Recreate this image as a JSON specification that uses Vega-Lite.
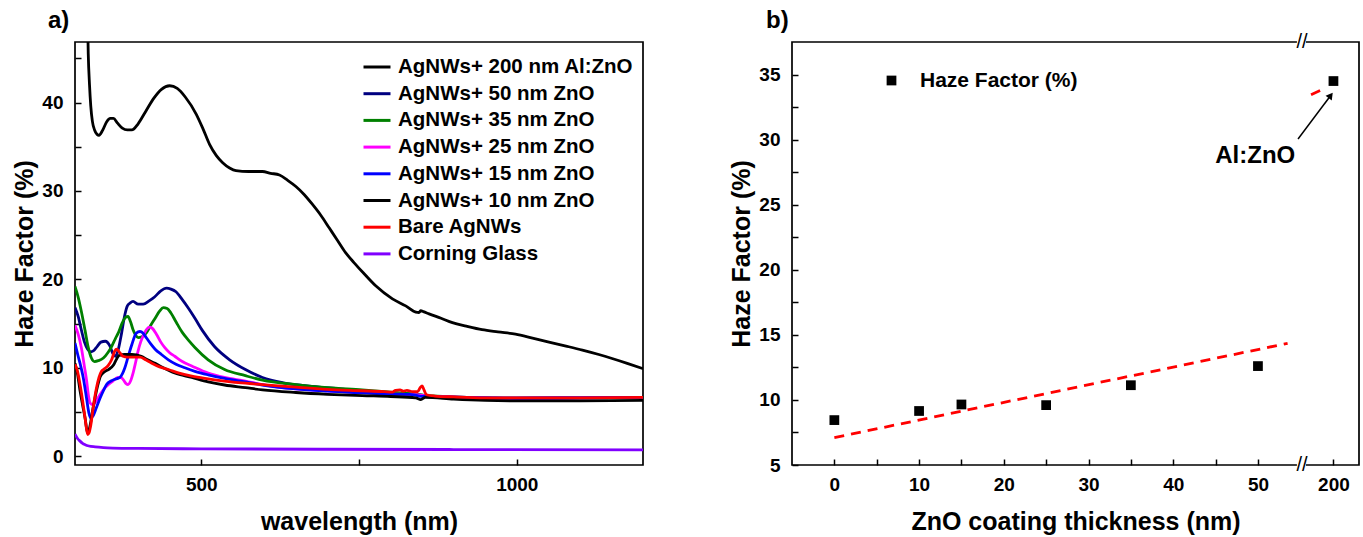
{
  "$schema": "https://vega.github.io/schema/vega-lite/v6.json",
  "background": "white",
  "padding": {"left": 12, "top": 8, "right": 5, "bottom": 5},
  "spacing": 85,
  "config": {
    "font": "Liberation Sans",
    "view": {"stroke": "black", "strokeWidth": 1.7},
    "axis": {
      "domain": false, "grid": false, "ticks": true, "tickSize": -6, "tickColor": "black", "tickWidth": 1.5,
      "labelFont": "Liberation Sans", "labelFontWeight": "bold", "labelFontSize": 19, "labelColor": "black",
      "titleFont": "Liberation Sans", "titleFontWeight": "bold", "titleFontSize": 25, "titleColor": "black"
    },
    "axisX": {"labelPadding": 16, "titlePadding": 15},
    "axisY": {"labelPadding": 18, "titlePadding": 4},
    "title": {"font": "Liberation Sans", "fontWeight": "bold", "fontSize": 24, "color": "black"}
  },
  "resolve": {"scale": {"color": "independent", "shape": "independent"}, "legend": {"color": "independent", "shape": "independent"}},
  "hconcat": [
    {
      "width": 568,
      "height": 423,
      "title": {"text": "a)", "anchor": "start", "frame": "group", "dx": -27, "offset": 9},
      "data": {"values": [
        {"s":"Corning Glass","w":300,"h":2.5},{"s":"Corning Glass","w":304,"h":2.0},{"s":"Corning Glass","w":308,"h":1.7},{"s":"Corning Glass","w":312,"h":1.45},{"s":"Corning Glass","w":316,"h":1.3},{"s":"Corning Glass","w":322,"h":1.15},{"s":"Corning Glass","w":332,"h":1.05},{"s":"Corning Glass","w":345,"h":0.97},{"s":"Corning Glass","w":360,"h":0.92},{"s":"Corning Glass","w":400,"h":0.87},{"s":"Corning Glass","w":500,"h":0.83},{"s":"Corning Glass","w":700,"h":0.78},{"s":"Corning Glass","w":900,"h":0.75},{"s":"Corning Glass","w":1200,"h":0.72},

        {"s":"AgNWs+ 200 nm Al:ZnO","w":317,"h":62},{"s":"AgNWs+ 200 nm Al:ZnO","w":319,"h":53},{"s":"AgNWs+ 200 nm Al:ZnO","w":321,"h":45.5},{"s":"AgNWs+ 200 nm Al:ZnO","w":323,"h":42},{"s":"AgNWs+ 200 nm Al:ZnO","w":325,"h":39.6},{"s":"AgNWs+ 200 nm Al:ZnO","w":327.5,"h":37.9},{"s":"AgNWs+ 200 nm Al:ZnO","w":331,"h":36.9},{"s":"AgNWs+ 200 nm Al:ZnO","w":335,"h":36.4},{"s":"AgNWs+ 200 nm Al:ZnO","w":338,"h":36.3},{"s":"AgNWs+ 200 nm Al:ZnO","w":344,"h":36.9},{"s":"AgNWs+ 200 nm Al:ZnO","w":350,"h":37.8},{"s":"AgNWs+ 200 nm Al:ZnO","w":356,"h":38.2},{"s":"AgNWs+ 200 nm Al:ZnO","w":361,"h":38.2},{"s":"AgNWs+ 200 nm Al:ZnO","w":367,"h":37.7},{"s":"AgNWs+ 200 nm Al:ZnO","w":375,"h":37.1},{"s":"AgNWs+ 200 nm Al:ZnO","w":383,"h":36.9},{"s":"AgNWs+ 200 nm Al:ZnO","w":390,"h":36.9},{"s":"AgNWs+ 200 nm Al:ZnO","w":400,"h":37.6},{"s":"AgNWs+ 200 nm Al:ZnO","w":412,"h":39.0},{"s":"AgNWs+ 200 nm Al:ZnO","w":425,"h":40.5},{"s":"AgNWs+ 200 nm Al:ZnO","w":437,"h":41.5},{"s":"AgNWs+ 200 nm Al:ZnO","w":450,"h":41.9},{"s":"AgNWs+ 200 nm Al:ZnO","w":462,"h":41.6},{"s":"AgNWs+ 200 nm Al:ZnO","w":475,"h":40.6},{"s":"AgNWs+ 200 nm Al:ZnO","w":492,"h":38.7},{"s":"AgNWs+ 200 nm Al:ZnO","w":503,"h":37.0},{"s":"AgNWs+ 200 nm Al:ZnO","w":513,"h":35.3},{"s":"AgNWs+ 200 nm Al:ZnO","w":524,"h":34.0},{"s":"AgNWs+ 200 nm Al:ZnO","w":534,"h":33.2},{"s":"AgNWs+ 200 nm Al:ZnO","w":545,"h":32.6},{"s":"AgNWs+ 200 nm Al:ZnO","w":555,"h":32.3},{"s":"AgNWs+ 200 nm Al:ZnO","w":575,"h":32.2},{"s":"AgNWs+ 200 nm Al:ZnO","w":597,"h":32.2},{"s":"AgNWs+ 200 nm Al:ZnO","w":610,"h":32.0},{"s":"AgNWs+ 200 nm Al:ZnO","w":624,"h":31.8},{"s":"AgNWs+ 200 nm Al:ZnO","w":637,"h":31.2},{"s":"AgNWs+ 200 nm Al:ZnO","w":650,"h":30.5},{"s":"AgNWs+ 200 nm Al:ZnO","w":663,"h":29.6},{"s":"AgNWs+ 200 nm Al:ZnO","w":676,"h":28.5},{"s":"AgNWs+ 200 nm Al:ZnO","w":690,"h":27.2},{"s":"AgNWs+ 200 nm Al:ZnO","w":703,"h":25.8},{"s":"AgNWs+ 200 nm Al:ZnO","w":716,"h":24.4},{"s":"AgNWs+ 200 nm Al:ZnO","w":729,"h":23.0},{"s":"AgNWs+ 200 nm Al:ZnO","w":742,"h":21.9},{"s":"AgNWs+ 200 nm Al:ZnO","w":756,"h":20.8},{"s":"AgNWs+ 200 nm Al:ZnO","w":776,"h":19.3},{"s":"AgNWs+ 200 nm Al:ZnO","w":803,"h":17.8},{"s":"AgNWs+ 200 nm Al:ZnO","w":824,"h":17.0},{"s":"AgNWs+ 200 nm Al:ZnO","w":840,"h":16.3},{"s":"AgNWs+ 200 nm Al:ZnO","w":845,"h":16.25},{"s":"AgNWs+ 200 nm Al:ZnO","w":848,"h":16.45},{"s":"AgNWs+ 200 nm Al:ZnO","w":852,"h":16.35},{"s":"AgNWs+ 200 nm Al:ZnO","w":861,"h":16.1},{"s":"AgNWs+ 200 nm Al:ZnO","w":880,"h":15.6},{"s":"AgNWs+ 200 nm Al:ZnO","w":898,"h":15.1},{"s":"AgNWs+ 200 nm Al:ZnO","w":920,"h":14.7},{"s":"AgNWs+ 200 nm Al:ZnO","w":945,"h":14.3},{"s":"AgNWs+ 200 nm Al:ZnO","w":970,"h":14.05},{"s":"AgNWs+ 200 nm Al:ZnO","w":998,"h":13.8},{"s":"AgNWs+ 200 nm Al:ZnO","w":1025,"h":13.35},{"s":"AgNWs+ 200 nm Al:ZnO","w":1051,"h":12.9},{"s":"AgNWs+ 200 nm Al:ZnO","w":1078,"h":12.45},{"s":"AgNWs+ 200 nm Al:ZnO","w":1104,"h":12.0},{"s":"AgNWs+ 200 nm Al:ZnO","w":1130,"h":11.5},{"s":"AgNWs+ 200 nm Al:ZnO","w":1151,"h":11.05},{"s":"AgNWs+ 200 nm Al:ZnO","w":1175,"h":10.5},{"s":"AgNWs+ 200 nm Al:ZnO","w":1200,"h":9.9},

        {"s":"AgNWs+ 50 nm ZnO","w":300,"h":16.8},{"s":"AgNWs+ 50 nm ZnO","w":305,"h":15.8},{"s":"AgNWs+ 50 nm ZnO","w":310,"h":14.3},{"s":"AgNWs+ 50 nm ZnO","w":315,"h":12.9},{"s":"AgNWs+ 50 nm ZnO","w":320,"h":12.1},{"s":"AgNWs+ 50 nm ZnO","w":325,"h":11.8},{"s":"AgNWs+ 50 nm ZnO","w":329,"h":11.9},{"s":"AgNWs+ 50 nm ZnO","w":335,"h":12.4},{"s":"AgNWs+ 50 nm ZnO","w":341,"h":12.9},{"s":"AgNWs+ 50 nm ZnO","w":348,"h":13.0},{"s":"AgNWs+ 50 nm ZnO","w":355,"h":12.5},{"s":"AgNWs+ 50 nm ZnO","w":360,"h":11.6},{"s":"AgNWs+ 50 nm ZnO","w":364,"h":11.3},{"s":"AgNWs+ 50 nm ZnO","w":368,"h":11.9},{"s":"AgNWs+ 50 nm ZnO","w":373,"h":13.6},{"s":"AgNWs+ 50 nm ZnO","w":379,"h":16.0},{"s":"AgNWs+ 50 nm ZnO","w":383,"h":17.0},{"s":"AgNWs+ 50 nm ZnO","w":387,"h":17.3},{"s":"AgNWs+ 50 nm ZnO","w":392,"h":17.5},{"s":"AgNWs+ 50 nm ZnO","w":400,"h":17.2},{"s":"AgNWs+ 50 nm ZnO","w":408,"h":17.2},{"s":"AgNWs+ 50 nm ZnO","w":418,"h":17.6},{"s":"AgNWs+ 50 nm ZnO","w":426,"h":18.0},{"s":"AgNWs+ 50 nm ZnO","w":436,"h":18.7},{"s":"AgNWs+ 50 nm ZnO","w":445,"h":19.0},{"s":"AgNWs+ 50 nm ZnO","w":452,"h":18.9},{"s":"AgNWs+ 50 nm ZnO","w":460,"h":18.6},{"s":"AgNWs+ 50 nm ZnO","w":470,"h":17.7},{"s":"AgNWs+ 50 nm ZnO","w":480,"h":16.7},{"s":"AgNWs+ 50 nm ZnO","w":490,"h":15.6},{"s":"AgNWs+ 50 nm ZnO","w":502,"h":14.2},{"s":"AgNWs+ 50 nm ZnO","w":521,"h":12.4},{"s":"AgNWs+ 50 nm ZnO","w":545,"h":10.9},{"s":"AgNWs+ 50 nm ZnO","w":570,"h":9.8},{"s":"AgNWs+ 50 nm ZnO","w":597,"h":8.9},{"s":"AgNWs+ 50 nm ZnO","w":630,"h":8.3},{"s":"AgNWs+ 50 nm ZnO","w":676,"h":7.9},{"s":"AgNWs+ 50 nm ZnO","w":720,"h":7.6},{"s":"AgNWs+ 50 nm ZnO","w":755,"h":7.35},{"s":"AgNWs+ 50 nm ZnO","w":800,"h":7.15},{"s":"AgNWs+ 50 nm ZnO","w":840,"h":7.0},{"s":"AgNWs+ 50 nm ZnO","w":860,"h":6.8},{"s":"AgNWs+ 50 nm ZnO","w":900,"h":6.7},{"s":"AgNWs+ 50 nm ZnO","w":950,"h":6.6},{"s":"AgNWs+ 50 nm ZnO","w":1000,"h":6.55},{"s":"AgNWs+ 50 nm ZnO","w":1100,"h":6.6},{"s":"AgNWs+ 50 nm ZnO","w":1200,"h":6.65},

        {"s":"AgNWs+ 35 nm ZnO","w":300,"h":19.2},{"s":"AgNWs+ 35 nm ZnO","w":305,"h":18.0},{"s":"AgNWs+ 35 nm ZnO","w":310,"h":16.4},{"s":"AgNWs+ 35 nm ZnO","w":316,"h":14.2},{"s":"AgNWs+ 35 nm ZnO","w":321,"h":12.3},{"s":"AgNWs+ 35 nm ZnO","w":326,"h":11.1},{"s":"AgNWs+ 35 nm ZnO","w":331,"h":10.7},{"s":"AgNWs+ 35 nm ZnO","w":337,"h":10.8},{"s":"AgNWs+ 35 nm ZnO","w":345,"h":11.1},{"s":"AgNWs+ 35 nm ZnO","w":352,"h":11.7},{"s":"AgNWs+ 35 nm ZnO","w":358,"h":12.4},{"s":"AgNWs+ 35 nm ZnO","w":364,"h":13.3},{"s":"AgNWs+ 35 nm ZnO","w":369,"h":14.0},{"s":"AgNWs+ 35 nm ZnO","w":375,"h":15.1},{"s":"AgNWs+ 35 nm ZnO","w":380,"h":15.7},{"s":"AgNWs+ 35 nm ZnO","w":384,"h":15.8},{"s":"AgNWs+ 35 nm ZnO","w":388,"h":15.2},{"s":"AgNWs+ 35 nm ZnO","w":392,"h":14.3},{"s":"AgNWs+ 35 nm ZnO","w":396,"h":13.7},{"s":"AgNWs+ 35 nm ZnO","w":400,"h":13.4},{"s":"AgNWs+ 35 nm ZnO","w":406,"h":13.5},{"s":"AgNWs+ 35 nm ZnO","w":413,"h":13.95},{"s":"AgNWs+ 35 nm ZnO","w":420,"h":14.8},{"s":"AgNWs+ 35 nm ZnO","w":427,"h":15.6},{"s":"AgNWs+ 35 nm ZnO","w":434,"h":16.4},{"s":"AgNWs+ 35 nm ZnO","w":440,"h":16.8},{"s":"AgNWs+ 35 nm ZnO","w":446,"h":16.7},{"s":"AgNWs+ 35 nm ZnO","w":452,"h":16.2},{"s":"AgNWs+ 35 nm ZnO","w":460,"h":15.2},{"s":"AgNWs+ 35 nm ZnO","w":470,"h":14.0},{"s":"AgNWs+ 35 nm ZnO","w":480,"h":13.1},{"s":"AgNWs+ 35 nm ZnO","w":490,"h":12.3},{"s":"AgNWs+ 35 nm ZnO","w":511,"h":10.9},{"s":"AgNWs+ 35 nm ZnO","w":537,"h":9.8},{"s":"AgNWs+ 35 nm ZnO","w":570,"h":9.1},{"s":"AgNWs+ 35 nm ZnO","w":597,"h":8.6},{"s":"AgNWs+ 35 nm ZnO","w":650,"h":8.1},{"s":"AgNWs+ 35 nm ZnO","w":700,"h":7.75},{"s":"AgNWs+ 35 nm ZnO","w":755,"h":7.5},{"s":"AgNWs+ 35 nm ZnO","w":800,"h":7.25},{"s":"AgNWs+ 35 nm ZnO","w":840,"h":7.0},{"s":"AgNWs+ 35 nm ZnO","w":860,"h":6.85},{"s":"AgNWs+ 35 nm ZnO","w":900,"h":6.7},{"s":"AgNWs+ 35 nm ZnO","w":950,"h":6.6},{"s":"AgNWs+ 35 nm ZnO","w":1000,"h":6.55},{"s":"AgNWs+ 35 nm ZnO","w":1100,"h":6.6},{"s":"AgNWs+ 35 nm ZnO","w":1200,"h":6.65},

        {"s":"AgNWs+ 25 nm ZnO","w":300,"h":14.8},{"s":"AgNWs+ 25 nm ZnO","w":305,"h":13.8},{"s":"AgNWs+ 25 nm ZnO","w":310,"h":12.3},{"s":"AgNWs+ 25 nm ZnO","w":315,"h":10.1},{"s":"AgNWs+ 25 nm ZnO","w":318.5,"h":8.5},{"s":"AgNWs+ 25 nm ZnO","w":321,"h":7.0},{"s":"AgNWs+ 25 nm ZnO","w":324,"h":6.0},{"s":"AgNWs+ 25 nm ZnO","w":329,"h":5.8},{"s":"AgNWs+ 25 nm ZnO","w":334,"h":6.3},{"s":"AgNWs+ 25 nm ZnO","w":340,"h":7.0},{"s":"AgNWs+ 25 nm ZnO","w":347,"h":7.7},{"s":"AgNWs+ 25 nm ZnO","w":353,"h":8.1},{"s":"AgNWs+ 25 nm ZnO","w":360,"h":8.5},{"s":"AgNWs+ 25 nm ZnO","w":368,"h":8.9},{"s":"AgNWs+ 25 nm ZnO","w":373,"h":8.9},{"s":"AgNWs+ 25 nm ZnO","w":377,"h":8.6},{"s":"AgNWs+ 25 nm ZnO","w":381,"h":8.2},{"s":"AgNWs+ 25 nm ZnO","w":384,"h":8.1},{"s":"AgNWs+ 25 nm ZnO","w":388,"h":8.5},{"s":"AgNWs+ 25 nm ZnO","w":392,"h":9.4},{"s":"AgNWs+ 25 nm ZnO","w":396,"h":10.6},{"s":"AgNWs+ 25 nm ZnO","w":400,"h":11.9},{"s":"AgNWs+ 25 nm ZnO","w":404,"h":12.9},{"s":"AgNWs+ 25 nm ZnO","w":408,"h":13.6},{"s":"AgNWs+ 25 nm ZnO","w":413,"h":14.3},{"s":"AgNWs+ 25 nm ZnO","w":418,"h":14.6},{"s":"AgNWs+ 25 nm ZnO","w":422,"h":14.5},{"s":"AgNWs+ 25 nm ZnO","w":429,"h":13.8},{"s":"AgNWs+ 25 nm ZnO","w":436,"h":12.9},{"s":"AgNWs+ 25 nm ZnO","w":442,"h":12.3},{"s":"AgNWs+ 25 nm ZnO","w":450,"h":11.7},{"s":"AgNWs+ 25 nm ZnO","w":458,"h":11.3},{"s":"AgNWs+ 25 nm ZnO","w":470,"h":10.7},{"s":"AgNWs+ 25 nm ZnO","w":485,"h":10.2},{"s":"AgNWs+ 25 nm ZnO","w":511,"h":9.4},{"s":"AgNWs+ 25 nm ZnO","w":537,"h":8.9},{"s":"AgNWs+ 25 nm ZnO","w":570,"h":8.5},{"s":"AgNWs+ 25 nm ZnO","w":597,"h":8.1},{"s":"AgNWs+ 25 nm ZnO","w":650,"h":7.6},{"s":"AgNWs+ 25 nm ZnO","w":700,"h":7.4},{"s":"AgNWs+ 25 nm ZnO","w":755,"h":7.2},{"s":"AgNWs+ 25 nm ZnO","w":800,"h":7.05},{"s":"AgNWs+ 25 nm ZnO","w":840,"h":6.95},{"s":"AgNWs+ 25 nm ZnO","w":860,"h":6.8},{"s":"AgNWs+ 25 nm ZnO","w":900,"h":6.7},{"s":"AgNWs+ 25 nm ZnO","w":950,"h":6.6},{"s":"AgNWs+ 25 nm ZnO","w":1000,"h":6.55},{"s":"AgNWs+ 25 nm ZnO","w":1100,"h":6.6},{"s":"AgNWs+ 25 nm ZnO","w":1200,"h":6.65},

        {"s":"AgNWs+ 15 nm ZnO","w":300,"h":12.8},{"s":"AgNWs+ 15 nm ZnO","w":305,"h":11.3},{"s":"AgNWs+ 15 nm ZnO","w":309,"h":10.2},{"s":"AgNWs+ 15 nm ZnO","w":313,"h":8.9},{"s":"AgNWs+ 15 nm ZnO","w":318,"h":6.7},{"s":"AgNWs+ 15 nm ZnO","w":322,"h":4.9},{"s":"AgNWs+ 15 nm ZnO","w":325,"h":4.3},{"s":"AgNWs+ 15 nm ZnO","w":329,"h":4.6},{"s":"AgNWs+ 15 nm ZnO","w":334,"h":5.5},{"s":"AgNWs+ 15 nm ZnO","w":340,"h":6.6},{"s":"AgNWs+ 15 nm ZnO","w":345,"h":7.4},{"s":"AgNWs+ 15 nm ZnO","w":350,"h":8.1},{"s":"AgNWs+ 15 nm ZnO","w":357,"h":8.5},{"s":"AgNWs+ 15 nm ZnO","w":363,"h":8.7},{"s":"AgNWs+ 15 nm ZnO","w":368,"h":8.8},{"s":"AgNWs+ 15 nm ZnO","w":371,"h":8.9},{"s":"AgNWs+ 15 nm ZnO","w":375,"h":9.3},{"s":"AgNWs+ 15 nm ZnO","w":379,"h":10.0},{"s":"AgNWs+ 15 nm ZnO","w":384,"h":11.2},{"s":"AgNWs+ 15 nm ZnO","w":390,"h":12.6},{"s":"AgNWs+ 15 nm ZnO","w":397,"h":13.9},{"s":"AgNWs+ 15 nm ZnO","w":403,"h":14.1},{"s":"AgNWs+ 15 nm ZnO","w":408,"h":13.9},{"s":"AgNWs+ 15 nm ZnO","w":413,"h":13.4},{"s":"AgNWs+ 15 nm ZnO","w":420,"h":12.7},{"s":"AgNWs+ 15 nm ZnO","w":427,"h":12.1},{"s":"AgNWs+ 15 nm ZnO","w":437,"h":11.5},{"s":"AgNWs+ 15 nm ZnO","w":448,"h":10.9},{"s":"AgNWs+ 15 nm ZnO","w":460,"h":10.4},{"s":"AgNWs+ 15 nm ZnO","w":474,"h":10.0},{"s":"AgNWs+ 15 nm ZnO","w":490,"h":9.6},{"s":"AgNWs+ 15 nm ZnO","w":511,"h":9.2},{"s":"AgNWs+ 15 nm ZnO","w":537,"h":8.8},{"s":"AgNWs+ 15 nm ZnO","w":570,"h":8.4},{"s":"AgNWs+ 15 nm ZnO","w":597,"h":8.05},{"s":"AgNWs+ 15 nm ZnO","w":650,"h":7.6},{"s":"AgNWs+ 15 nm ZnO","w":700,"h":7.35},{"s":"AgNWs+ 15 nm ZnO","w":755,"h":7.15},{"s":"AgNWs+ 15 nm ZnO","w":800,"h":7.0},{"s":"AgNWs+ 15 nm ZnO","w":830,"h":7.0},{"s":"AgNWs+ 15 nm ZnO","w":845,"h":6.8},{"s":"AgNWs+ 15 nm ZnO","w":855,"h":6.75},{"s":"AgNWs+ 15 nm ZnO","w":900,"h":6.65},{"s":"AgNWs+ 15 nm ZnO","w":950,"h":6.6},{"s":"AgNWs+ 15 nm ZnO","w":1000,"h":6.55},{"s":"AgNWs+ 15 nm ZnO","w":1100,"h":6.6},{"s":"AgNWs+ 15 nm ZnO","w":1200,"h":6.65},

        {"s":"AgNWs+ 10 nm ZnO","w":300,"h":10.5},{"s":"AgNWs+ 10 nm ZnO","w":304,"h":9.3},{"s":"AgNWs+ 10 nm ZnO","w":308,"h":7.4},{"s":"AgNWs+ 10 nm ZnO","w":312,"h":5.8},{"s":"AgNWs+ 10 nm ZnO","w":316,"h":4.3},{"s":"AgNWs+ 10 nm ZnO","w":320,"h":2.6},{"s":"AgNWs+ 10 nm ZnO","w":322,"h":2.9},{"s":"AgNWs+ 10 nm ZnO","w":324,"h":3.5},{"s":"AgNWs+ 10 nm ZnO","w":328,"h":5.2},{"s":"AgNWs+ 10 nm ZnO","w":332,"h":6.7},{"s":"AgNWs+ 10 nm ZnO","w":336,"h":8.0},{"s":"AgNWs+ 10 nm ZnO","w":340,"h":9.0},{"s":"AgNWs+ 10 nm ZnO","w":346,"h":9.5},{"s":"AgNWs+ 10 nm ZnO","w":353,"h":9.8},{"s":"AgNWs+ 10 nm ZnO","w":361,"h":10.3},{"s":"AgNWs+ 10 nm ZnO","w":366,"h":11.0},{"s":"AgNWs+ 10 nm ZnO","w":370,"h":11.4},{"s":"AgNWs+ 10 nm ZnO","w":379,"h":11.5},{"s":"AgNWs+ 10 nm ZnO","w":390,"h":11.5},{"s":"AgNWs+ 10 nm ZnO","w":405,"h":11.3},{"s":"AgNWs+ 10 nm ZnO","w":415,"h":10.9},{"s":"AgNWs+ 10 nm ZnO","w":427,"h":10.5},{"s":"AgNWs+ 10 nm ZnO","w":440,"h":10.0},{"s":"AgNWs+ 10 nm ZnO","w":458,"h":9.4},{"s":"AgNWs+ 10 nm ZnO","w":485,"h":8.9},{"s":"AgNWs+ 10 nm ZnO","w":511,"h":8.4},{"s":"AgNWs+ 10 nm ZnO","w":537,"h":8.05},{"s":"AgNWs+ 10 nm ZnO","w":570,"h":7.75},{"s":"AgNWs+ 10 nm ZnO","w":597,"h":7.5},{"s":"AgNWs+ 10 nm ZnO","w":650,"h":7.2},{"s":"AgNWs+ 10 nm ZnO","w":700,"h":7.0},{"s":"AgNWs+ 10 nm ZnO","w":755,"h":6.85},{"s":"AgNWs+ 10 nm ZnO","w":800,"h":6.75},{"s":"AgNWs+ 10 nm ZnO","w":840,"h":6.6},{"s":"AgNWs+ 10 nm ZnO","w":848,"h":6.4},{"s":"AgNWs+ 10 nm ZnO","w":855,"h":6.65},{"s":"AgNWs+ 10 nm ZnO","w":900,"h":6.45},{"s":"AgNWs+ 10 nm ZnO","w":950,"h":6.3},{"s":"AgNWs+ 10 nm ZnO","w":1000,"h":6.25},{"s":"AgNWs+ 10 nm ZnO","w":1100,"h":6.25},{"s":"AgNWs+ 10 nm ZnO","w":1200,"h":6.3},

        {"s":"Bare AgNWs","w":300,"h":10.4},{"s":"Bare AgNWs","w":304,"h":9.6},{"s":"Bare AgNWs","w":308,"h":8.1},{"s":"Bare AgNWs","w":312,"h":6.3},{"s":"Bare AgNWs","w":316,"h":4.3},{"s":"Bare AgNWs","w":320,"h":2.45},{"s":"Bare AgNWs","w":322,"h":2.6},{"s":"Bare AgNWs","w":325,"h":3.5},{"s":"Bare AgNWs","w":329,"h":5.6},{"s":"Bare AgNWs","w":334,"h":7.7},{"s":"Bare AgNWs","w":338,"h":8.9},{"s":"Bare AgNWs","w":342,"h":9.6},{"s":"Bare AgNWs","w":347,"h":9.9},{"s":"Bare AgNWs","w":353,"h":10.3},{"s":"Bare AgNWs","w":358,"h":10.9},{"s":"Bare AgNWs","w":363,"h":11.9},{"s":"Bare AgNWs","w":366,"h":12.1},{"s":"Bare AgNWs","w":370,"h":11.8},{"s":"Bare AgNWs","w":376,"h":11.3},{"s":"Bare AgNWs","w":383,"h":11.2},{"s":"Bare AgNWs","w":390,"h":11.2},{"s":"Bare AgNWs","w":403,"h":11.2},{"s":"Bare AgNWs","w":412,"h":10.9},{"s":"Bare AgNWs","w":421,"h":10.55},{"s":"Bare AgNWs","w":434,"h":10.1},{"s":"Bare AgNWs","w":448,"h":9.8},{"s":"Bare AgNWs","w":465,"h":9.4},{"s":"Bare AgNWs","w":485,"h":9.05},{"s":"Bare AgNWs","w":511,"h":8.75},{"s":"Bare AgNWs","w":537,"h":8.5},{"s":"Bare AgNWs","w":570,"h":8.25},{"s":"Bare AgNWs","w":597,"h":8.1},{"s":"Bare AgNWs","w":650,"h":7.8},{"s":"Bare AgNWs","w":700,"h":7.55},{"s":"Bare AgNWs","w":755,"h":7.4},{"s":"Bare AgNWs","w":790,"h":7.3},{"s":"Bare AgNWs","w":803,"h":7.25},{"s":"Bare AgNWs","w":808,"h":7.45},{"s":"Bare AgNWs","w":815,"h":7.5},{"s":"Bare AgNWs","w":820,"h":7.35},{"s":"Bare AgNWs","w":826,"h":7.45},{"s":"Bare AgNWs","w":835,"h":7.3},{"s":"Bare AgNWs","w":843,"h":7.3},{"s":"Bare AgNWs","w":847,"h":7.75},{"s":"Bare AgNWs","w":850,"h":7.95},{"s":"Bare AgNWs","w":853,"h":7.5},{"s":"Bare AgNWs","w":857,"h":6.95},{"s":"Bare AgNWs","w":870,"h":6.8},{"s":"Bare AgNWs","w":900,"h":6.7},{"s":"Bare AgNWs","w":950,"h":6.6},{"s":"Bare AgNWs","w":1000,"h":6.6},{"s":"Bare AgNWs","w":1100,"h":6.6},{"s":"Bare AgNWs","w":1200,"h":6.65}
      ]},
      "mark": {"type": "line", "strokeWidth": 2.8, "clip": true, "interpolate": "monotone"},
      "encoding": {
        "x": {"field": "w", "type": "quantitative", "title": "wavelength (nm)",
              "scale": {"domain": [300, 1200], "nice": false, "zero": false},
              "axis": {"values": [500, 750, 1000], "format": "d", "labelExpr": "datum.value == 750 ? '' : datum.label"}},
        "y": {"field": "h", "type": "quantitative", "title": "Haze Factor (%)",
              "scale": {"domain": [-1, 46.85], "nice": false, "zero": false},
              "axis": {"values": [0, 5, 10, 15, 20, 25, 30, 35, 40, 45], "labelExpr": "datum.value % 10 == 0 ? datum.label : ''"}},
        "color": {"field": "s", "type": "nominal", "title": null,
                  "scale": {"domain": ["AgNWs+ 200 nm Al:ZnO", "AgNWs+ 50 nm ZnO", "AgNWs+ 35 nm ZnO", "AgNWs+ 25 nm ZnO", "AgNWs+ 15 nm ZnO", "AgNWs+ 10 nm ZnO", "Bare AgNWs", "Corning Glass"],
                            "range": ["#000000", "#000080", "#008000", "#FF00FF", "#0000FF", "#000000", "#FF0000", "#8000FF"]},
                  "legend": {"orient": "none", "legendX": 287, "legendY": 10, "padding": 0, "symbolType": "stroke", "symbolStrokeWidth": 3, "symbolSize": 729,
                             "labelFont": "Liberation Sans", "labelFontWeight": "bold", "labelFontSize": 20.5, "labelColor": "black", "labelLimit": 0, "labelOffset": 6, "rowPadding": 0.7}}
      }
    },
    {
      "width": 567,
      "height": 423,
      "title": {"text": "b)", "anchor": "start", "frame": "group", "dx": -26, "offset": -1},
      "encoding": {
        "x": {"field": "x", "type": "quantitative", "title": "ZnO coating thickness (nm)",
              "scale": {"type": "linear", "domain": [-5, 55.2, 192, 206.5], "range": [0, 510, 510, 567], "nice": false, "zero": false},
              "axis": {"values": [0, 5, 10, 15, 20, 25, 30, 35, 40, 45, 50, 200], "labelExpr": "datum.value % 10 == 0 ? datum.label : ''"}},
        "y": {"field": "y", "type": "quantitative", "title": "Haze Factor (%)",
              "scale": {"domain": [5, 37.5], "nice": false, "zero": false},
              "axis": {"values": [5, 7.5, 10, 12.5, 15, 17.5, 20, 22.5, 25, 27.5, 30, 32.5, 35], "labelExpr": "datum.value % 5 == 0 ? datum.label : ''"}}
      },
      "layer": [
        {
          "data": {"values": [{"x": 54.6, "x2": 193, "y": 5}, {"x": 54.6, "x2": 193, "y": 37.5}]},
          "mark": {"type": "rule", "color": "white", "strokeWidth": 4},
          "encoding": {"x2": {"field": "x2"}}
        },
        {
          "data": {"values": [{"x": 55.2, "y": 5, "t": "//"}, {"x": 55.2, "y": 37.5, "t": "//"}]},
          "mark": {"type": "text", "font": "Liberation Sans", "fontSize": 20, "color": "black", "baseline": "middle", "align": "center"},
          "encoding": {"text": {"field": "t"}}
        },
        {
          "data": {"values": [{"x": 0, "y": 7.1, "g": "a"}, {"x": 53.5, "y": 14.35, "g": "a"}, {"x": 194.3, "y": 33.45, "g": "b"}, {"x": 196.8, "y": 33.8, "g": "b"}]},
          "mark": {"type": "line", "color": "#FF0000", "strokeWidth": 2.8, "strokeDash": [10, 7]},
          "encoding": {"detail": {"field": "g"}}
        },
        {
          "data": {"values": [{"x": 54.73, "y": 30.05}, {"x": 199.3, "y": 33.39}]},
          "mark": {"type": "line", "color": "black", "strokeWidth": 1.5},
          "encoding": {}
        },
        {
          "data": {"values": [{"x": 199.3, "y": 33.39}]},
          "mark": {"type": "point", "shape": "triangle-up", "filled": true, "color": "black", "size": 60, "angle": 37, "opacity": 1},
          "encoding": {}
        },
        {
          "data": {"values": [{"x": 54.4, "y": 28.77, "t": "Al:ZnO"}]},
          "mark": {"type": "text", "font": "Liberation Sans", "fontWeight": "bold", "fontSize": 24, "color": "black", "align": "right", "baseline": "middle"},
          "encoding": {"text": {"field": "t"}}
        },
        {
          "data": {"values": [
            {"x": 0, "y": 8.45, "k": "Haze Factor (%)"},
            {"x": 10, "y": 9.15, "k": "Haze Factor (%)"},
            {"x": 15, "y": 9.65, "k": "Haze Factor (%)"},
            {"x": 25, "y": 9.6, "k": "Haze Factor (%)"},
            {"x": 35, "y": 11.13, "k": "Haze Factor (%)"},
            {"x": 50, "y": 12.6, "k": "Haze Factor (%)"},
            {"x": 200, "y": 34.5, "k": "Haze Factor (%)"}
          ]},
          "mark": {"type": "point", "filled": true, "color": "black", "size": 95, "opacity": 1},
          "encoding": {
            "shape": {"field": "k", "type": "nominal", "title": null, "scale": {"range": ["square"]},
                      "legend": {"orient": "none", "legendX": 89, "legendY": 28, "padding": 0, "symbolSize": 95, "symbolFillColor": "black", "symbolStrokeColor": "black", "symbolOpacity": 1,
                                 "labelFont": "Liberation Sans", "labelFontWeight": "bold", "labelFontSize": 21, "labelColor": "black", "labelLimit": 0, "labelOffset": 18}}
          }
        }
      ]
    }
  ]
}
